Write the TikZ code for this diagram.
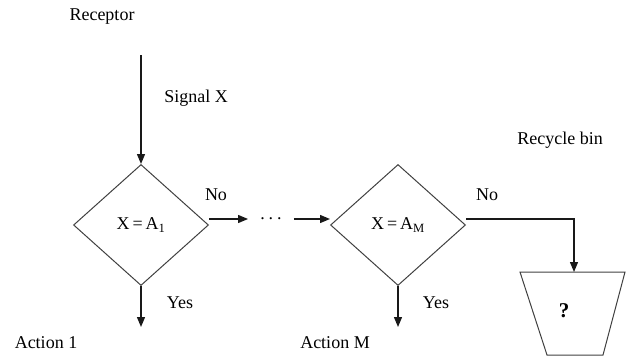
\documentclass[tikz,border=0pt]{standalone}
\usepackage{fontspec}
\setmainfont{Liberation Serif}
\usetikzlibrary{arrows.meta,shapes.geometric}
\begin{document}
\begin{tikzpicture}[x=1pt,y=-1pt,
  lbl/.style={font=\fontsize{18}{21}\selectfont, inner sep=0pt},
  arr/.style={line width=1.3pt, draw=black!90, -{Triangle[length=10pt,width=8pt]}},
  decide/.style={diamond, draw=black!75, line width=1pt, minimum width=135pt, minimum height=121pt, inner sep=0pt, font=\fontsize{18}{21}\selectfont}]
\useasboundingbox (0,0) rectangle (626,356);

% texts
\node[lbl] (receptor) at (102,17) {Receptor};
\node[lbl] (signal) at (196,98) {Signal X};
\node[lbl] (no1) at (216,195) {No};
\node[lbl] (yes1) at (180,303) {Yes};
\node[lbl] (act1) at (46,343) {Action 1};
\node[lbl] (no2) at (487,195) {No};
\node[lbl] (yes2) at (436,303) {Yes};
\node[lbl] (actM) at (335,343) {Action M};
\node[lbl] (bin) at (560,140) {Recycle bin};

% decisions
\node[decide] (d1) at (141,225) {X\,=\,A\textsubscript{1}};
\node[decide] (d2) at (398,225) {X\,=\,A\textsubscript{M}};

% dots
\node[lbl, inner xsep=12pt, minimum height=10pt] (dots) at (271,219) {\raisebox{-2pt}{.\hspace{4pt}.\hspace{4pt}.}};

% bin
\coordinate (bintop) at (574,272);
\draw[line width=1pt, draw=black!75] (520,272) -- (625,272) -- (603,355) -- (547,355) -- cycle;
\node[lbl, font=\fontsize{21}{24}\selectfont\bfseries] (q) at (564,311) {?};

% connectors
\coordinate (recv) at (141,55);
\coordinate (y1end) at (141,327);
\coordinate (y2end) at (398,327);
\draw[arr] (recv) -- (d1.north);
\draw[arr] (d1.south) -- (y1end);
\draw[arr] (d2.south) -- (y2end);
\draw[arr] ([yshift=6pt]d1.east) -- ([yshift=6pt]d1.east -| dots.west);
\draw[arr] ([yshift=6pt]d2.west -| dots.east) -- ([yshift=6pt]d2.west);
\draw[arr] ([yshift=6pt]d2.east) -| (bintop);
\end{tikzpicture}
\end{document}
